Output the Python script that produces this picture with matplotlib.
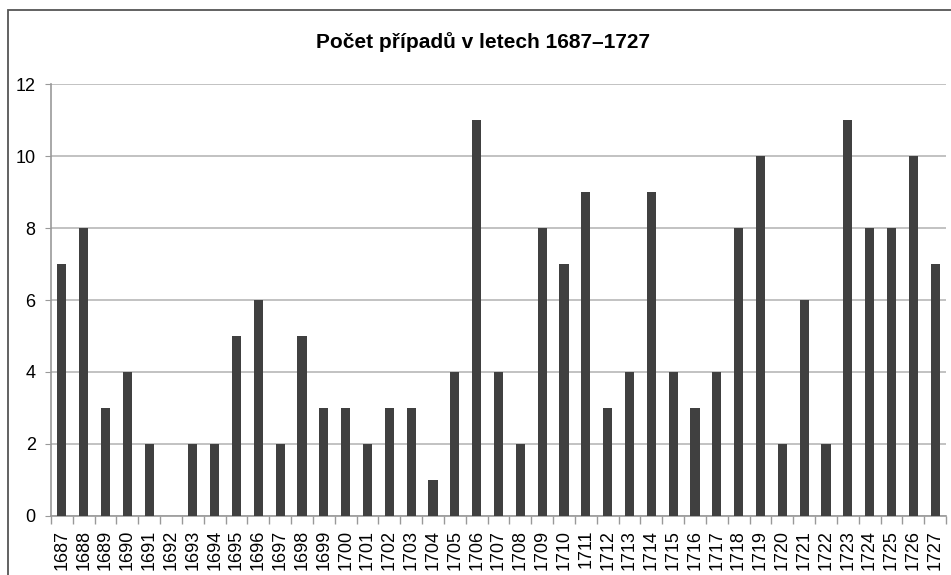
import matplotlib
matplotlib.use("Agg")
import matplotlib.pyplot as plt
from matplotlib.patches import Rectangle
from matplotlib.ticker import FixedLocator
import numpy as np

plt.rcParams['font.family'] = ['Liberation Sans', 'DejaVu Sans']

years = [str(y) for y in range(1687, 1728)]
counts = [7, 8, 3, 4, 2, 0, 2, 2, 5, 6, 2, 5, 3, 3, 2, 3, 3, 1, 4, 11,
          4, 2, 8, 7, 9, 3, 4, 9, 4, 3, 4, 8, 10, 2, 6, 2, 11, 8, 8, 10, 7]
title = "Počet případů v letech 1687–1727"
yticks = [0, 2, 4, 6, 8, 10, 12]

W, H = 951, 575
fig = plt.figure(figsize=(W / 100, H / 100), dpi=100)

# outer frame (cropped at right and bottom)
fig.patches.append(Rectangle((8 / W, -0.1), 1.2, 1 - 10 / H + 0.1,
                             transform=fig.transFigure, fill=False,
                             edgecolor='#555555', linewidth=1.3))

ax = fig.add_axes([51 / W, 1 - 516 / H, 895 / W, (516 - 84) / H])
x = np.arange(len(years))
ax.bar(x, counts, width=0.42, color='#404040', zorder=3)
ax.set_xlim(-0.5, len(years) - 0.5)
ax.set_ylim(0, 12)
ax.set_yticks(yticks)
ax.yaxis.grid(True, color='#b8b8b8', linewidth=1.2, zorder=0)
ax.set_xticks(x)
ax.set_xticklabels(years, rotation=90, fontsize=13)
ax.xaxis.set_minor_locator(FixedLocator(np.arange(-0.5, len(years), 1)))
ax.tick_params(axis='x', which='major', length=0, pad=10)
ax.tick_params(axis='x', which='minor', length=6, color='#999999', width=1)
ax.tick_params(axis='y', length=4, color='#999999', labelsize=13, pad=7)
for s in ['top', 'right']:
    ax.spines[s].set_visible(False)
for s in ['left', 'bottom']:
    ax.spines[s].set_color('#999999')
    ax.spines[s].set_linewidth(1.2)

fig.text(483 / W, 1 - 42 / H, title, ha='center', va='center',
         fontsize=15, fontweight='bold')

fig.savefig('out.png', dpi=100)
